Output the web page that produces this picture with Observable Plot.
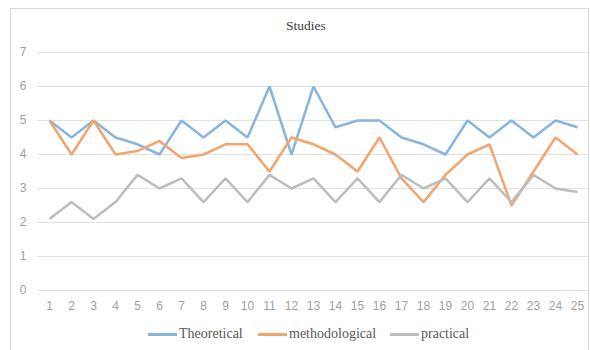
<!DOCTYPE html>
<html>
<head>
<meta charset="utf-8">
<script src="https://cdn.jsdelivr.net/npm/d3@7"></script>
<script src="https://cdn.jsdelivr.net/npm/@observablehq/plot@0.6"></script>
<style>
  html, body { margin: 0; padding: 0; background: #fff; }
  #frame { position: relative; width: 590px; height: 350px; overflow: hidden; }
  #border { position: absolute; left: 10px; top: 8px; width: 579px; height: 360px; border: 1px solid #d9d9d9; box-sizing: border-box; }
  #title { position: absolute; top: 18px; left: 206px; width: 200px; text-align: center;
           font: 13.5px "Liberation Serif", serif; color: #404040; }
  #chart { position: absolute; left: 0; top: 0; }
  #legend { position: absolute; top: 325px; left: 0; width: 590px; height: 18px;
            font: 14px "Liberation Serif", serif; color: #595959; }
  .item { position: absolute; top: 0; display: flex; align-items: center; height: 18px; }
  .swatch { width: 29px; height: 3px; margin-right: 2px; }
</style>
</head>
<body>
<div id="frame">
  <div id="border"></div>
  <div id="title">Studies</div>
  <div id="chart"></div>
  <div id="legend"></div>
</div>
<script>
// Study numbers along the x axis
const studies = d3.range(1, 26);
// Scores per study for each series
const theoretical    = [5, 4.5, 5, 4.5, 4.3, 4, 5, 4.5, 5, 4.5, 6, 4, 6, 4.8, 5, 5, 4.5, 4.3, 4, 5, 4.5, 5, 4.5, 5, 4.8];
const methodological = [5, 4, 5, 4, 4.1, 4.4, 3.9, 4, 4.3, 4.3, 3.5, 4.5, 4.3, 4, 3.5, 4.5, 3.3, 2.6, 3.4, 4, 4.3, 2.5, 3.5, 4.5, 4];
const practical      = [2.1, 2.6, 2.1, 2.6, 3.4, 3, 3.3, 2.6, 3.3, 2.6, 3.4, 3, 3.3, 2.6, 3.3, 2.6, 3.4, 3, 3.3, 2.6, 3.3, 2.6, 3.4, 3, 2.9];
const seriesNames  = ["Theoretical", "methodological", "practical"];
const seriesColors = ["#88b5df", "#f3a46c", "#bdbdbd"];
const yTicks = [0, 1, 2, 3, 4, 5, 6, 7];

const rows = [];
[theoretical, methodological, practical].forEach((vals, i) => {
  vals.forEach((v, j) => rows.push({series: seriesNames[i], study: studies[j], value: v}));
});

const plot = Plot.plot({
  width: 590,
  height: 322,
  marginLeft: 37,
  marginRight: 2,
  marginTop: 52,
  marginBottom: 32,
  style: {fontFamily: "'Liberation Sans', sans-serif", fontSize: "12px", background: "transparent", overflow: "visible"},
  x: {type: "point", domain: studies, padding: 0.5, label: null},
  y: {domain: [0, 7], label: null},
  color: {domain: seriesNames, range: seriesColors},
  marks: [
    Plot.ruleY(yTicks, {stroke: "#e2e2e2", strokeWidth: 1}),
    Plot.axisY(yTicks, {tickSize: 0, tickPadding: 11, fill: "#a0a0a0", fontSize: 12, label: null}),
    Plot.axisX(studies, {tickSize: 0, tickPadding: 11, fill: "#a0a0a0", fontSize: 12, label: null}),
    Plot.line(rows, {x: "study", y: "value", z: "series", stroke: "series", strokeWidth: 2.5,
                     strokeLinejoin: "miter", strokeLinecap: "butt"})
  ]
});
document.getElementById("chart").appendChild(plot);

// Legend below the plot
const legendX = [148, 258, 390];
const legend = document.getElementById("legend");
seriesNames.forEach((name, i) => {
  const item = document.createElement("div");
  item.className = "item";
  item.style.left = legendX[i] + "px";
  const sw = document.createElement("div");
  sw.className = "swatch";
  sw.style.background = seriesColors[i];
  const label = document.createElement("span");
  label.textContent = name;
  item.appendChild(sw);
  item.appendChild(label);
  legend.appendChild(item);
});
</script>
</body>
</html>
